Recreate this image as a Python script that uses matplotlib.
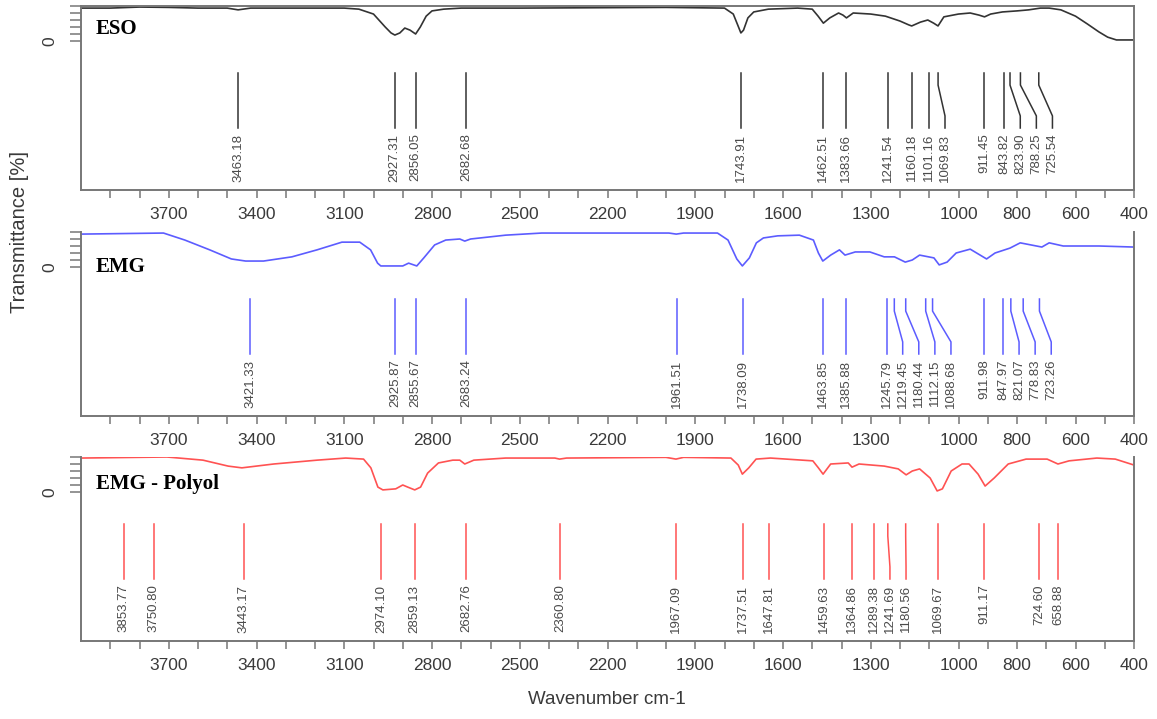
import matplotlib.pyplot as plt
import numpy as np

plt.rcParams['font.family'] = 'Liberation Sans'

# --- spectra (wavenumber, relative transmittance) ---
eso_wn = [4000, 3900, 3800, 3700, 3600, 3500, 3463, 3420, 3100, 3050, 3000, 2960, 2940,
          2927, 2910, 2893, 2875, 2856, 2840, 2820, 2800, 2760, 2700, 2500, 2000, 1800,
          1770, 1755, 1744, 1735, 1720, 1700, 1650, 1550, 1500, 1480, 1462, 1440, 1410,
          1395, 1383, 1360, 1300, 1250, 1200, 1170, 1160, 1130, 1105, 1085, 1070, 1050,
          1000, 960, 930, 911, 890, 850, 800, 760, 720, 690, 650, 600, 560, 520, 490,
          460, 400]
eso_t = [0.94, 0.94, 0.97, 0.96, 0.94, 0.94, 0.89, 0.94, 0.94, 0.91, 0.77, 0.40, 0.23,
         0.17, 0.23, 0.37, 0.31, 0.20, 0.40, 0.71, 0.86, 0.91, 0.94, 0.94, 0.96, 0.94,
         0.77, 0.46, 0.23, 0.31, 0.66, 0.83, 0.91, 0.94, 0.91, 0.71, 0.51, 0.66, 0.80,
         0.74, 0.66, 0.80, 0.77, 0.71, 0.57, 0.46, 0.43, 0.54, 0.60, 0.51, 0.43, 0.69,
         0.77, 0.80, 0.74, 0.69, 0.77, 0.83, 0.86, 0.89, 0.94, 0.94, 0.89, 0.71, 0.49,
         0.26, 0.11, 0.03, 0.03]

emg_wn = [4000, 3718, 3645, 3560, 3486, 3437, 3376, 3279, 3193, 3108, 3047, 3010, 2986,
          2975, 2900, 2880, 2852, 2828, 2791, 2753, 2705, 2688, 2668, 2548, 2425, 1990,
          1965, 1940, 1824, 1788, 1758, 1739, 1715, 1691, 1667, 1618, 1544, 1496, 1479,
          1464, 1437, 1407, 1388, 1353, 1303, 1254, 1219, 1182, 1158, 1133, 1084, 1066,
          1039, 1008, 960, 904, 875, 824, 789, 715, 690, 642, 520, 400]
emg_t = [0.94, 0.97, 0.77, 0.49, 0.23, 0.17, 0.17, 0.29, 0.49, 0.71, 0.71, 0.49, 0.11,
         0.03, 0.03, 0.11, 0.03, 0.26, 0.63, 0.77, 0.80, 0.74, 0.80, 0.91, 0.97, 0.97,
         0.94, 0.97, 0.97, 0.77, 0.23, 0.03, 0.26, 0.69, 0.83, 0.89, 0.91, 0.77, 0.40,
         0.17, 0.34, 0.49, 0.34, 0.43, 0.43, 0.29, 0.29, 0.14, 0.20, 0.34, 0.26, 0.06,
         0.14, 0.40, 0.51, 0.23, 0.40, 0.54, 0.69, 0.57, 0.69, 0.60, 0.60, 0.57]

pol_wn = [4000, 3706, 3583, 3497, 3450, 3341, 3193, 3095, 3034, 3009, 2985, 2968, 2924,
          2900, 2883, 2859, 2839, 2815, 2778, 2729, 2705, 2688, 2657, 2548, 2380, 2364,
          2340, 2000, 1966, 1940, 1778, 1753, 1739, 1717, 1692, 1643, 1498, 1479, 1463,
          1437, 1377, 1364, 1340, 1254, 1206, 1179, 1158, 1133, 1097, 1073, 1055, 1025,
          988, 964, 933, 909, 878, 830, 769, 697, 660, 622, 527, 464, 400]
pol_t = [0.97, 1.00, 0.91, 0.74, 0.69, 0.80, 0.91, 0.97, 0.94, 0.69, 0.14, 0.06, 0.09,
         0.20, 0.14, 0.06, 0.14, 0.54, 0.83, 0.91, 0.91, 0.80, 0.91, 0.97, 0.97, 0.94,
         0.97, 0.99, 0.94, 0.99, 0.97, 0.77, 0.51, 0.69, 0.94, 0.97, 0.89, 0.69, 0.51,
         0.80, 0.83, 0.71, 0.80, 0.74, 0.66, 0.49, 0.60, 0.66, 0.40, 0.03, 0.09, 0.60,
         0.80, 0.80, 0.51, 0.17, 0.40, 0.80, 0.94, 0.94, 0.80, 0.89, 0.97, 0.94, 0.77]

# --- peak positions ---
eso_peaks = [3463.18, 2927.31, 2856.05, 2682.68, 1743.91, 1462.51, 1383.66, 1241.54,
             1160.18, 1101.16, 1069.83, 911.45, 843.82, 823.90, 788.25, 725.54]
emg_peaks = [3421.33, 2925.87, 2855.67, 2683.24, 1961.51, 1738.09, 1463.85, 1385.88,
             1245.79, 1219.45, 1180.44, 1112.15, 1088.68, 911.98, 847.97, 821.07,
             778.83, 723.26]
pol_peaks = [3853.77, 3750.80, 3443.17, 2974.10, 2859.13, 2682.76, 2360.80, 1967.09,
             1737.51, 1647.81, 1459.63, 1364.86, 1289.38, 1241.69, 1180.56, 1069.67,
             911.17, 724.60, 658.88]

tick_labels = [3700, 3400, 3100, 2800, 2500, 2200, 1900, 1600, 1300, 1000, 800, 600, 400]

panels = [
    ('ESO', eso_wn, eso_t, eso_peaks, '#333333', 0.875, True),
    ('EMG', emg_wn, emg_t, emg_peaks, '#5c5cff', 0.81, False),
    ('EMG - Polyol', pol_wn, pol_t, pol_peaks, '#ff5252', 0.855, False),
]

W, H = 1157, 719
fig = plt.figure(figsize=(W / 100, H / 100), dpi=100)
tops = [6, 232, 457]
ph = 184
left, right = 81, 1134

gray = '#777777'
for (name, wn, t, peaks, col, ty, topspine), top in zip(panels, tops):
    ax = fig.add_axes([left / W, (H - top - ph) / H, (right - left) / W, ph / H])
    ax.plot(wn, t, color=col, lw=1.2)
    ax.set_xlim(4000, 400)
    ax.set_ylim(1 - ph / 35, 1.0)

    # peak markers, labels pushed apart when crowded
    tr = ax.get_xaxis_transform()
    y0, y3 = 1 - 67 / ph, 1 - 122 / ph
    y1 = y0 - 0.22 * (y0 - y3)
    y2 = y0 - 0.78 * (y0 - y3)
    prev = 1e9
    for p in sorted(peaks, reverse=True):
        lab = min(p, prev - 55)
        prev = lab
        ax.plot([p, p, lab, lab], [y0, y1, y2, y3], color=col, lw=1.1,
                transform=tr, clip_on=False)
        ax.text(lab, y3 - 0.03, '%.2f' % p, rotation=90, ha='center', va='top',
                fontsize=9.5, color='#4a4a4a', transform=tr)

    ax.text(0.0142, ty, name, transform=ax.transAxes, fontsize=15,
            fontweight='bold', family='Liberation Serif', va='center', ha='left')

    ax.set_xticks(np.arange(3900, 399, -100))
    ax.set_xticklabels([str(v) if v in tick_labels else '' for v in np.arange(3900, 399, -100)])
    ax.set_yticks([0, 0.2, 0.4, 0.6, 0.8, 1.0])
    ax.set_yticklabels(['0', '', '', '', '', ''])
    ax.tick_params(axis='x', length=6, width=1.1, color=gray, labelsize=12.5,
                   labelcolor='#3a3a3a', pad=6)
    ax.tick_params(axis='y', length=8, width=1.1, color=gray, labelsize=12.5,
                   labelcolor='#3a3a3a', pad=9, labelrotation=90)
    for lab in ax.get_yticklabels():
        lab.set_va('center')
    for s in ax.spines.values():
        s.set_color(gray)
        s.set_linewidth(1.4)
    ax.spines['top'].set_visible(topspine)

fig.text(0.0165, 1 - 232 / H, 'Transmittance [%]', rotation=90, ha='center',
         va='center', fontsize=14.5, color='#3a3a3a')
fig.text(607 / W, 1 - 700 / H, 'Wavenumber cm-1', ha='center', va='center',
         fontsize=13.5, color='#3a3a3a')

fig.savefig('out.png', dpi=100)
